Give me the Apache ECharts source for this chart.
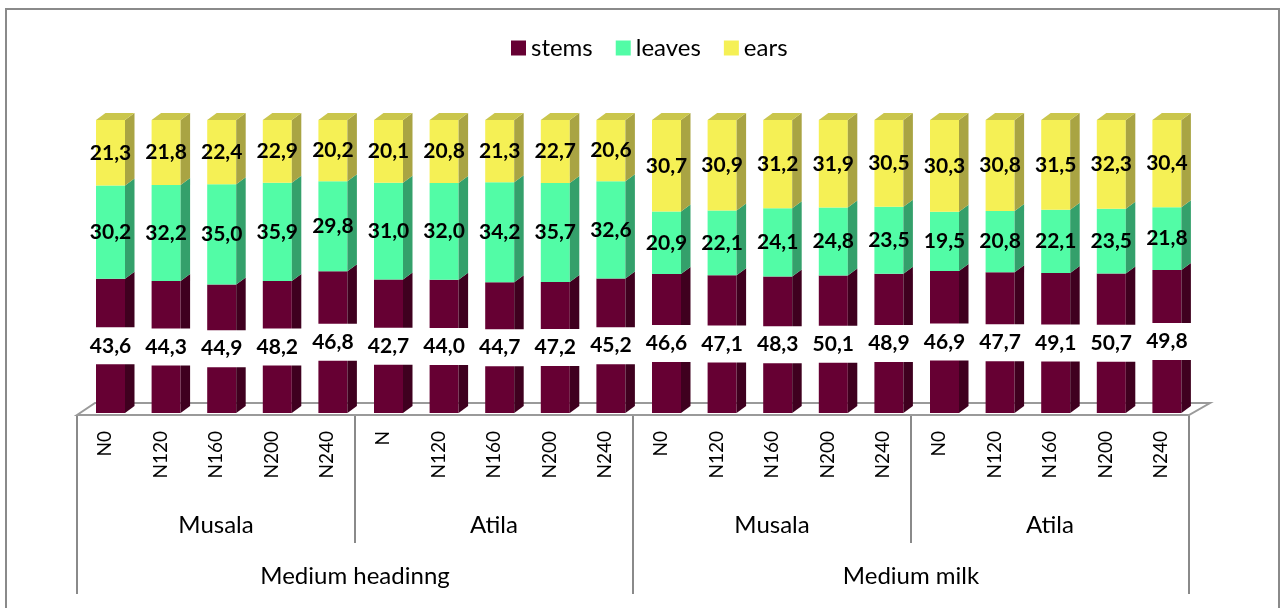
<!DOCTYPE html>
<html><head><meta charset="utf-8">
<script src="https://cdn.jsdelivr.net/npm/echarts@6/dist/echarts.min.js"></script>
<style>html,body{margin:0;padding:0;background:#fff}#c{width:1282px;height:608px}</style>
</head><body><div id="c"></div>
<script>
// ---- data ----
const tickLabels = ["N0","N120","N160","N200","N240","N","N120","N160","N200","N240","N0","N120","N160","N200","N240","N0","N120","N160","N200","N240"];
const varieties = ["Musala","Atila","Musala","Atila"];
const stages = ["Medium headinng","Medium milk"];
const seriesNames = ["stems","leaves","ears"];
const stems  = [43.6,44.3,44.9,48.2,46.8,42.7,44.0,44.7,47.2,45.2,46.6,47.1,48.3,50.1,48.9,46.9,47.7,49.1,50.7,49.8];
const leaves = [30.2,32.2,35.0,35.9,29.8,31.0,32.0,34.2,35.7,32.6,20.9,22.1,24.1,24.8,23.5,19.5,20.8,22.1,23.5,21.8];
const ears   = [21.3,21.8,22.4,22.9,20.2,20.1,20.8,21.3,22.7,20.6,30.7,30.9,31.2,31.9,30.5,30.3,30.8,31.5,32.3,30.4];

// ---- style ----
const FRONT = ['#660033','#52fca6','#f5f055'];
const SIDE  = ['#3f001f','#34a06b','#a9a443'];
const TOP   = ['#52002a','#44d08a','#cac64c'];
const FW = 29, DX = 9.5, DY = 7, OFF = 5.7;
const FONT = 'Lato, "Open Sans", sans-serif';

const pieces = [stems, leaves, ears];
const fmt = v => v.toFixed(1).replace('.', ',');
function segData(k){
  return tickLabels.map((_, i) => {
    const tot = stems[i] + leaves[i] + ears[i];
    let start = 0;
    for (let j = 0; j < k; j++) start += pieces[j][i] / tot * 100;
    const end = start + pieces[k][i] / tot * 100;
    return [i, start, end, pieces[k][i]];
  });
}
function makeRender(k){
  return function(params, api){
    const i = api.value(0);
    const p0 = api.coord([i, api.value(1)]);
    const p1 = api.coord([i, api.value(2)]);
    const cx = p0[0] + OFF;
    const xl = cx - FW/2, xr = cx + FW/2;
    const yb = p0[1], yt = p1[1];
    const ch = [
      {type:'rect', shape:{x:xl, y:yt, width:FW, height:yb-yt}, style:{fill:FRONT[k]}},
      {type:'polygon', shape:{points:[[xr,yb],[xr+DX,yb-DY],[xr+DX,yt-DY],[xr,yt]]}, style:{fill:SIDE[k]}}
    ];
    if (k === 2) ch.push({type:'polygon', shape:{points:[[xl,yt],[xl+DX,yt-DY],[xr+DX,yt-DY],[xr,yt]]}, style:{fill:TOP[k]}});
    const ym = (yb + yt) / 2;
    if (k === 0) ch.push({type:'rect', shape:{x:cx-26, y:ym-18.5, width:52, height:37}, style:{fill:'#fff'}});
    ch.push({type:'text', x:cx, y:ym, style:{text:fmt(api.value(3)), fill:'#000', font:'bold 21px ' + FONT, align:'center', verticalAlign:'middle'}});
    return {type:'group', children:ch};
  };
}
function renderFloor(params, api){
  if (params.dataIndex !== 0) return;
  const n = tickLabels.length;
  const bw = api.size([1, 0])[0];
  const a = api.coord([0, 0]), b = api.coord([n-1, 0]);
  const L = a[0] - bw/2, R = b[0] + bw/2, y = a[1];
  return {type:'polygon', shape:{points:[[L,y+2],[L+18,y-10],[R+21,y-10],[R,y+2]]},
          style:{fill:'#fff', stroke:'#9a9a9a', lineWidth:2}};
}

const chart = echarts.init(document.getElementById('c'));
const series = [{
  type:'custom', name:'floor', renderItem: renderFloor, data:[[0]], silent:true, z:1
}];
seriesNames.forEach((nm, k) => series.push({
  type:'custom', name:nm, renderItem: makeRender(k), data: segData(k),
  itemStyle:{color:FRONT[k]}, z:2 + k, encode:{x:0, y:[1,2]}
}));

chart.setOption({
  animation:false,
  graphic:[{type:'rect', shape:{x:6, y:9, width:1273, height:660}, style:{fill:'none', stroke:'#8a8a8a', lineWidth:2}, z:-10}],
  legend:{data:seriesNames, top:31, left:506, icon:'rect', itemWidth:15, itemHeight:15, itemGap:23,
          textStyle:{fontSize:24, fontFamily:FONT, color:'#000'}},
  grid:{left:77, right:93, top:120, bottom:195},
  xAxis:[
    {type:'category', data:tickLabels, axisLine:{show:false}, axisTick:{show:false},
     axisLabel:{rotate:90, margin:18, fontSize:19, fontFamily:FONT, color:'#000', interval:0}},
    {type:'category', data:varieties, position:'bottom', offset:2, axisLine:{show:false},
     axisTick:{show:true, length:128, lineStyle:{color:'#8a8a8a', width:2}},
     axisLabel:{margin:98, fontSize:24, fontFamily:FONT, color:'#000', interval:0}},
    {type:'category', data:stages, position:'bottom', offset:2, axisLine:{show:false},
     axisTick:{show:true, length:179, lineStyle:{color:'#8a8a8a', width:2}},
     axisLabel:{margin:149, fontSize:24, fontFamily:FONT, color:'#000', interval:0}}
  ],
  yAxis:{type:'value', min:0, max:100, show:false},
  series: series
});
</script></body></html>
